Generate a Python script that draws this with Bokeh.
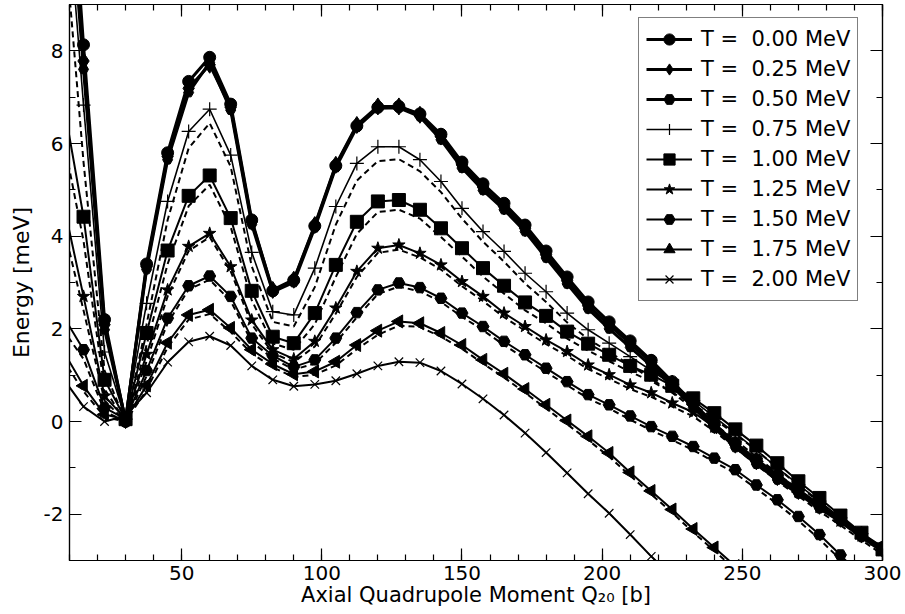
import math
from bokeh.plotting import figure
from bokeh.models import Range1d, LinearAxis, SingleIntervalTicker, CustomJSTickFormatter
from bokeh.embed import file_html
from bokeh.resources import INLINE

NA = float("nan")

# Axial quadrupole moment grid [b]
q20 = [7.5, 15, 22.5, 30, 37.5, 45, 52.5, 60, 67.5, 75, 82.5, 90, 97.5, 105,
       112.5, 120, 127.5, 135, 142.5, 150, 157.5, 165, 172.5, 180, 187.5, 195,
       202.5, 210, 217.5, 225, 232.5, 240, 247.5, 255, 262.5, 270, 277.5, 285,
       292.5, 300]

labels = ["T =\u00a0 0.00 MeV", "T =\u00a0 0.25 MeV", "T =\u00a0 0.50 MeV",
          "T =\u00a0 0.75 MeV", "T =\u00a0 1.00 MeV", "T =\u00a0 1.25 MeV",
          "T =\u00a0 1.50 MeV", "T =\u00a0 1.75 MeV", "T =\u00a0 2.00 MeV"]

# solid curves (with markers)
e_t000 = [14.5, 8.13, 2.2, 0.0, 3.4, 5.8, 7.34, 7.86, 6.85, 4.35, 2.82, 3.05, 4.22, 5.52,
          6.38, 6.78, 6.8, 6.64, 6.2, 5.6, 5.13, 4.71, 4.24, 3.68, 3.12, 2.58,
          2.15, 1.74, 1.32, 0.86, 0.4, -0.05, -0.46, -0.82, -1.16, -1.47, -1.8, -2.1,
          -2.42, -2.72]
e_t025 = [14.0, 7.78, 2.09, 0.03, 3.34, 5.72, 7.19, 7.7, 6.78, 4.31, 2.84, 3.06, 4.24, 5.54,
          6.4, 6.8, 6.8, 6.62, 6.15, 5.54, 5.06, 4.64, 4.17, 3.6, 3.04, 2.5,
          2.08, 1.68, 1.27, 0.82, 0.36, -0.08, -0.5, -0.86, -1.2, -1.5, -1.82, -2.1,
          -2.44, -2.75]
e_t050 = [13.5, 7.6, 1.98, 0.03, 3.28, 5.65, 7.1, 7.75, 6.72, 4.25, 2.8, 3.0, 4.18, 5.48,
          6.35, 6.76, 6.77, 6.58, 6.08, 5.47, 4.99, 4.57, 4.1, 3.53, 2.97, 2.43,
          2.0, 1.6, 1.2, 0.76, 0.3, -0.14, -0.56, -0.92, -1.26, -1.56, -1.88, -2.16,
          -2.5, -2.8]
e_t075 = [12.5, 6.83, 1.5, 0.05, 2.55, 4.75, 6.26, 6.74, 5.75, 3.65, 2.37, 2.3, 3.31, 4.64,
          5.57, 5.93, 5.93, 5.65, 5.18, 4.6, 4.1, 3.67, 3.2, 2.8, 2.34, 1.98,
          1.69, 1.4, 1.1, 0.8, 0.45, 0.1, -0.25, -0.62, -1.0, -1.36, -1.72, -2.08,
          -2.42, -2.76]
e_t100 = [7.0, 4.42, 0.9, 0.05, 1.91, 3.69, 4.87, 5.31, 4.39, 2.82, 1.83, 1.69, 2.34, 3.38,
          4.31, 4.75, 4.78, 4.57, 4.17, 3.74, 3.31, 2.93, 2.57, 2.28, 1.94, 1.68,
          1.44, 1.2, 1.01, 0.77, 0.5, 0.18, -0.17, -0.52, -0.9, -1.29, -1.65, -2.03,
          -2.4, -2.76]
e_t125 = [4.8, 2.7, 0.55, 0.05, 1.45, 2.84, 3.78, 4.06, 3.34, 2.19, 1.55, 1.35, 1.73, 2.45,
          3.24, 3.74, 3.81, 3.63, 3.38, 3.02, 2.7, 2.34, 2.05, 1.76, 1.51, 1.22,
          1.01, 0.79, 0.62, 0.4, 0.2, -0.12, -0.48, -0.84, -1.2, -1.52, -1.85, -2.15,
          -2.47, -2.78]
e_t150 = [2.3, 1.55, 0.3, 0.05, 1.1, 2.23, 2.93, 3.14, 2.7, 1.8, 1.42, 1.18, 1.33, 1.8,
          2.35, 2.84, 2.99, 2.89, 2.66, 2.34, 2.05, 1.73, 1.44, 1.15, 0.86, 0.58,
          0.36, 0.12, -0.11, -0.32, -0.54, -0.79, -1.04, -1.37, -1.69, -2.05, -2.44, -2.88,
          -3.35, NA]
e_t175 = [1.55, 0.77, 0.15, 0.05, 0.78, 1.7, 2.3, 2.41, 2.02, 1.55, 1.24, 1.02, 1.08, 1.29,
          1.65, 1.96, 2.16, 2.12, 1.91, 1.65, 1.33, 1.03, 0.7, 0.36, 0.02, -0.32,
          -0.68, -1.1, -1.5, -1.9, -2.32, -2.72, -3.12, NA, NA, NA, NA, NA,
          NA, NA]
e_t200 = [0.95, 0.32, 0.0, 0.12, 0.62, 1.28, 1.72, 1.84, 1.64, 1.2, 0.9, 0.76, 0.8, 0.88,
          1.03, 1.2, 1.29, 1.27, 1.09, 0.81, 0.49, 0.14, -0.25, -0.67, -1.11, -1.56,
          -1.98, -2.44, -2.91, -3.35, NA, NA, NA, NA, NA, NA, NA, NA,
          NA, NA]

# dashed companion curves (no markers)
d_t075 = [11.0, 5.6, 1.1, 0.0, 2.1, 4.35, 5.9, 6.44, 5.5, 3.35, 2.15, 2.05, 2.9, 4.25,
          5.2, 5.62, 5.66, 5.4, 4.95, 4.38, 3.88, 3.45, 2.98, 2.58, 2.14, 1.78,
          1.5, 1.22, 0.92, 0.62, 0.28, -0.06, -0.4, -0.76, -1.12, -1.48, -1.83, -2.17,
          -2.5, -2.82]
d_t100 = [6.2, 3.9, 0.7, 0.0, 1.65, 3.4, 4.65, 5.11, 4.2, 2.62, 1.68, 1.55, 2.1, 3.12,
          4.05, 4.52, 4.57, 4.38, 3.98, 3.56, 3.13, 2.76, 2.4, 2.12, 1.79, 1.53,
          1.3, 1.07, 0.87, 0.63, 0.37, 0.06, -0.28, -0.62, -1.0, -1.38, -1.74, -2.11,
          -2.47, -2.82]
d_t125 = [4.3, 2.4, 0.45, 0.0, 1.3, 2.7, 3.68, 3.98, 3.24, 2.1, 1.48, 1.28, 1.62, 2.33,
          3.12, 3.64, 3.71, 3.54, 3.28, 2.92, 2.6, 2.25, 1.96, 1.67, 1.42, 1.13,
          0.92, 0.7, 0.53, 0.32, 0.11, -0.21, -0.57, -0.93, -1.29, -1.61, -1.94, -2.24,
          -2.56, -2.87]
d_t150 = [2.0, 1.35, 0.22, 0.0, 0.98, 2.12, 2.85, 3.06, 2.6, 1.72, 1.36, 1.12, 1.25, 1.7,
          2.25, 2.75, 2.91, 2.81, 2.58, 2.26, 1.97, 1.65, 1.36, 1.07, 0.78, 0.5,
          0.28, 0.04, -0.19, -0.4, -0.62, -0.87, -1.12, -1.45, -1.78, -2.14, -2.54, -2.98,
          -3.45, NA]
d_t175 = [1.35, 0.65, 0.1, 0.0, 0.68, 1.6, 2.2, 2.32, 1.93, 1.47, 1.17, 0.96, 1.01, 1.21,
          1.56, 1.87, 2.07, 2.04, 1.83, 1.57, 1.25, 0.95, 0.62, 0.28, -0.06, -0.4,
          -0.76, -1.17, -1.57, -1.97, -2.39, -2.79, -3.2, NA, NA, NA, NA, NA,
          NA, NA]

FONT = "DejaVu Sans"

p = figure(width=904, height=613, output_backend="svg",
           toolbar_location=None, x_range=Range1d(10, 300), y_range=Range1d(-3, 9),
           min_border_left=69, min_border_right=22, min_border_top=4,
           min_border_bottom=53, background_fill_color="white",
           border_fill_color="white")
p.outline_line_color = "black"
p.outline_line_width = 1.2
p.xgrid.visible = False
p.ygrid.visible = False

xt = SingleIntervalTicker(interval=50, num_minor_ticks=5)
yt = SingleIntervalTicker(interval=2, num_minor_ticks=2)


def style_axis(ax, show_labels):
    ax.axis_line_color = "black"
    ax.axis_line_width = 1.2
    ax.major_tick_in = 12
    ax.major_tick_out = 0
    ax.minor_tick_in = 6
    ax.minor_tick_out = 0
    ax.major_tick_line_color = "black"
    ax.minor_tick_line_color = "black"
    ax.major_tick_line_width = 1.2
    ax.minor_tick_line_width = 1.2
    if show_labels:
        ax.major_label_text_font = FONT
        ax.major_label_text_font_size = "20px"
        ax.major_label_text_color = "black"
        ax.major_label_standoff = 5
        ax.axis_label_text_font = FONT
        ax.axis_label_text_font_size = "21px"
        ax.axis_label_text_font_style = "normal"
        ax.axis_label_text_color = "black"
        ax.axis_label_standoff = 0
    else:
        ax.formatter = CustomJSTickFormatter(code="return ''")
        ax.major_label_text_font_size = "1px"
        ax.major_label_standoff = 0


p.xaxis.ticker = xt
p.yaxis.ticker = yt
style_axis(p.xaxis[0], True)
style_axis(p.yaxis[0], True)
p.yaxis.major_label_standoff = 6
p.xaxis.axis_label = "Axial Quadrupole Moment Q\u2082\u2080 [b]"
p.yaxis.axis_label = "Energy [meV]"
p.yaxis.axis_label_text_font_size = "22px"
p.yaxis.axis_label_standoff = 7
p.yaxis.major_label_overrides = {-2: "-2"}

top_ax = LinearAxis(ticker=SingleIntervalTicker(interval=50, num_minor_ticks=5))
style_axis(top_ax, False)
p.add_layout(top_ax, "above")
right_ax = LinearAxis(ticker=SingleIntervalTicker(interval=2, num_minor_ticks=2))
style_axis(right_ax, False)
p.add_layout(right_ax, "right")

# dashed curves first
for d in [d_t075, d_t100, d_t125, d_t150, d_t175]:
    p.line(q20, d, line_color="black", line_width=2, line_dash="6 4")

series = [
    (e_t000, "circle", 12, 3.0, 0),
    (e_t025, "diamond", 17, 3.0, 0),
    (e_t050, "hex", 10, 3.0, 0),
    (e_t075, "cross", 14, 1.6, 0),
    (e_t100, "square", 13, 2.0, 0),
    (e_t125, "star", 13, 2.0, 0),
    (e_t150, "hex", 12, 2.0, 0),
    (e_t175, "triangle", 13, 2.0, math.pi / 2),
    (e_t200, "x", 12, 2.0, 0),
]

for (vals, mk, sz, lw, ang), lab in zip(series, labels):
    p.line(q20, vals, line_color="black", line_width=lw, legend_label=lab)
    thin = mk in ("cross", "x")
    p.scatter(q20, vals, marker=mk, size=sz, angle=ang,
              fill_color=None if thin else "black", line_color="black",
              line_width=1.2 if thin else 1, legend_label=lab)

lg = p.legend[0]
lg.location = (569, 259)
lg.padding = 7
lg.spacing = 2
lg.glyph_width = 46
lg.glyph_height = 28
lg.label_height = 28
lg.label_standoff = 9
lg.label_text_font = FONT
lg.label_text_font_size = "21px"
lg.label_text_color = "black"
lg.border_line_color = "black"
lg.border_line_width = 1.2
lg.background_fill_color = "white"
lg.background_fill_alpha = 1.0

open("out.html", "w").write(file_html(p, INLINE))
